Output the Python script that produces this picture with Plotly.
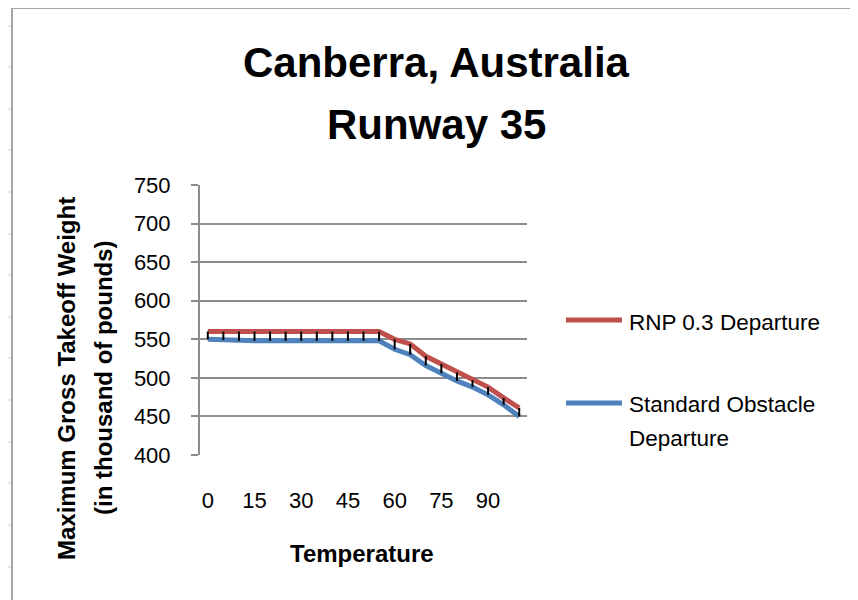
import plotly.graph_objects as go

# ---- data ----
temperature = [0, 5, 10, 15, 20, 25, 30, 35, 40, 45, 50, 55, 60, 65, 70, 75, 80, 85, 90, 95, 100]
rnp_departure = [560, 560, 560, 560, 560, 560, 560, 560, 560, 560, 560, 560,
                 550, 544, 528, 518, 507, 497, 488, 474, 461]
standard_departure = [550, 549, 548, 548, 548, 548, 548, 548, 548, 548, 548, 548,
                      537, 530, 516, 506, 496, 488, 478, 465, 450]
x_tick_values = [0, 15, 30, 45, 60, 75, 90]
y_tick_values = [400, 450, 500, 550, 600, 650, 700, 750]

series_names = ["RNP 0.3 Departure", "Standard Obstacle<br>Departure"]
RED = "#C0504D"
BLUE = "#4F81BD"
GRID = "#8c8c8c"
FONT = "Liberation Sans, Arial, sans-serif"

fig = go.Figure()

fig.add_trace(go.Scatter(x=temperature, y=rnp_departure, mode="lines",
                         line=dict(color=RED, width=5), name=series_names[0],
                         showlegend=False))
fig.add_trace(go.Scatter(x=temperature, y=standard_departure, mode="lines",
                         line=dict(color=BLUE, width=5), name=series_names[1],
                         showlegend=False))

# high-low lines
hl_x, hl_y = [], []
for t, hi, lo in zip(temperature, rnp_departure, standard_departure):
    hl_x += [t, t, None]
    hl_y += [hi, lo, None]
fig.add_trace(go.Scatter(x=hl_x, y=hl_y, mode="lines",
                         line=dict(color="black", width=2),
                         showlegend=False, hoverinfo="skip"))

# page body has an 8px margin: work in window pixels, subtract offset
OFF = 8
W, H = 858 - OFF, 600 - OFF
L, R, T, B = 200 - OFF, 527 - OFF, 185 - OFF, 455 - OFF

def px(x):
    return (x - OFF - L) / (R - L)

def py(y):
    return (B - (y - OFF)) / (B - T)

annotations = [
    dict(text="<b>Canberra, Australia</b>", x=px(436), y=py(62), xref="paper", yref="paper",
         showarrow=False, font=dict(family=FONT, size=42, color="black"),
         xanchor="center", yanchor="middle"),
    dict(text="<b>Runway 35</b>", x=px(436), y=py(125), xref="paper", yref="paper",
         showarrow=False, font=dict(family=FONT, size=42, color="black"),
         xanchor="center", yanchor="middle"),
    dict(text="<b>Temperature</b>", x=px(362), y=py(553), xref="paper", yref="paper",
         showarrow=False, font=dict(family=FONT, size=24, color="black"),
         xanchor="center", yanchor="middle"),
    dict(text="<b>Maximum Gross Takeoff Weight</b>", x=px(66), y=py(379), xref="paper", yref="paper",
         showarrow=False, font=dict(family=FONT, size=24, color="black"), textangle=-90,
         xanchor="center", yanchor="middle"),
    dict(text="<b>(in thousand of pounds)</b>", x=px(103), y=py(378), xref="paper", yref="paper",
         showarrow=False, font=dict(family=FONT, size=24, color="black"), textangle=-90,
         xanchor="center", yanchor="middle"),
    # legend text
    dict(text="RNP 0.3 Departure", x=px(627), y=py(322), xref="paper", yref="paper",
         showarrow=False, font=dict(family=FONT, size=22.5, color="black"),
         xanchor="left", yanchor="middle"),
    dict(text="Standard Obstacle", x=px(627), y=py(404), xref="paper", yref="paper",
         showarrow=False, font=dict(family=FONT, size=22.5, color="black"),
         xanchor="left", yanchor="middle"),
    dict(text="Departure", x=px(627), y=py(438), xref="paper", yref="paper",
         showarrow=False, font=dict(family=FONT, size=22.5, color="black"),
         xanchor="left", yanchor="middle"),
]

shapes = [
    # legend line samples
    dict(type="line", xref="paper", yref="paper", x0=px(566), x1=px(622), y0=py(320), y1=py(320),
         line=dict(color=RED, width=5)),
    dict(type="line", xref="paper", yref="paper", x0=px(566), x1=px(622), y0=py(403), y1=py(403),
         line=dict(color=BLUE, width=5)),
    # chart border
    dict(type="line", xref="paper", yref="paper", x0=px(12), x1=px(12), y0=py(7), y1=py(600),
         line=dict(color="#a6a6a6", width=2)),
    dict(type="line", xref="paper", yref="paper", x0=px(11), x1=px(858), y0=py(8), y1=py(8),
         line=dict(color="#a6a6a6", width=2)),
]
# faint spreadsheet gridline stubs
for yy in [26, 67, 109, 150, 192, 234, 275, 317, 358, 400, 442, 483, 525, 567]:
    shapes.append(dict(type="line", xref="paper", yref="paper", x0=px(7), x1=px(11),
                       y0=py(yy), y1=py(yy), line=dict(color="#c9cde0", width=1)))
for xx in [83, 164, 245, 326, 407, 488, 569, 650, 731, 812]:
    shapes.append(dict(type="line", xref="paper", yref="paper", x0=px(xx), x1=px(xx),
                       y0=py(2), y1=py(6), line=dict(color="#c9cde0", width=1)))

fig.update_layout(
    width=W, height=H,
    margin=dict(l=L, r=W - R, t=T, b=H - B, pad=0, autoexpand=False),
    paper_bgcolor="white", plot_bgcolor="white",
    showlegend=False,
    annotations=annotations,
    shapes=shapes,
    font=dict(family=FONT, size=22, color="black"),
    xaxis=dict(range=[-2.5, 102.5], tickvals=x_tick_values, ticktext=[str(v) for v in x_tick_values],
               showgrid=False, zeroline=False, showline=False, ticks="", automargin=False,
               ticklabelstandoff=30, tickfont=dict(family=FONT, size=22, color="black")),
    yaxis=dict(range=[400, 750], tickvals=y_tick_values, showgrid=True, gridcolor=GRID, gridwidth=1.5,
               zeroline=False, showline=True, linecolor=GRID, linewidth=2, automargin=False,
               ticks="outside", ticklen=7, tickcolor=GRID, tickwidth=1.5,
               ticklabelstandoff=16, tickfont=dict(family=FONT, size=22, color="black")),
)

fig.write_html("out.html")
